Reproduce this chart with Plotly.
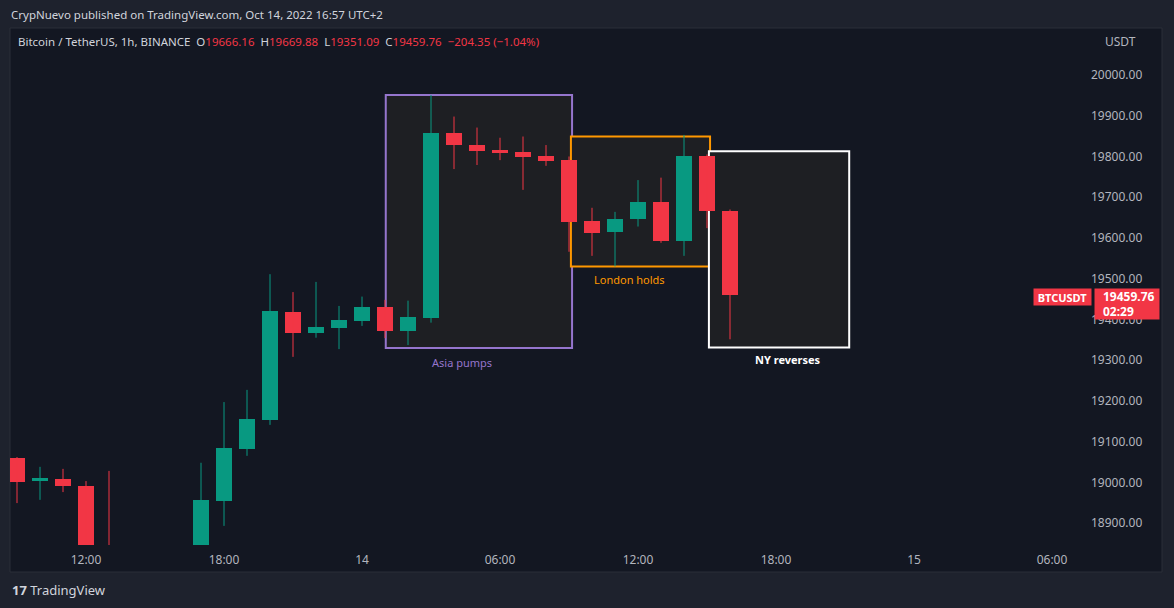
import plotly.graph_objects as go
import pandas as pd

# ---------------- data ----------------
times = pd.date_range("2022-10-13 09:00", "2022-10-14 16:00", freq="h")
opens = [19060, 19004, 19008, 18991, 18770, 18720, 18700, 18760, 18800, 18955, 19082, 19153,
         19418, 19367, 19380, 19396, 19431, 19372, 19404, 19858, 19828, 19817, 19812, 19801,
         19791, 19641, 19615, 19646, 19687, 19593, 19801, 19666.16]
highs = [19062, 19038, 19033, 19003, 19028, 18810, 18790, 18830, 19048, 19197, 19227, 19511,
         19467, 19492, 19433, 19456, 19448, 19446, 19951, 19898, 19871, 19846, 19849, 19828,
         19800, 19674, 19664, 19742, 19748, 19853, 19805, 19669.88]
lows = [18949, 18957, 18976, 18700, 18690, 18650, 18620, 18700, 18780, 18893, 19065, 19141,
        19308, 19355, 19327, 19384, 19354, 19337, 19392, 19769, 19779, 19791, 19718, 19777,
        19566, 19556, 19530, 19628, 19588, 19556, 19624, 19351.09]
closes = [19001, 19010, 18990, 18760, 18720, 18700, 18760, 18800, 18957, 19084, 19155, 19421,
          19367, 19381, 19398, 19430, 19372, 19405, 19858, 19827, 19814, 19808, 19799, 19790,
          19640, 19613, 19646, 19687, 19593, 19801, 19666, 19459.76]

# session boxes
box_names = ["Asia pumps", "London holds", "NY reverses"]
box_start = ["2022-10-14 01:02", "2022-10-14 09:05", "2022-10-14 15:05"]
box_end = ["2022-10-14 09:08", "2022-10-14 15:08", "2022-10-14 21:11"]
box_top = [19951, 19849, 19813]
box_bottom = [19330, 19530, 19331]
label_time = ["2022-10-14 04:21", "2022-10-14 11:39", "2022-10-14 18:30"]
label_price = [19295, 19497, 19302]
box_colors = ["#9575cd", "#ff9800", "#ffffff"]

price_ticks = [18900, 19000, 19100, 19200, 19300, 19400, 19500, 19600, 19700, 19800, 19900, 20000]
time_tickvals = ["2022-10-13 12:00", "2022-10-13 18:00", "2022-10-14 00:00", "2022-10-14 06:00",
                 "2022-10-14 12:00", "2022-10-14 18:00", "2022-10-15 00:00", "2022-10-15 06:00"]
time_ticktext = ["12:00", "18:00", "14", "06:00", "12:00", "18:00", "15", "06:00"]

last_price = 19459.76
countdown = "02:29"
change_text = "−204.35 (−1.04%)"

# ---------------- style ----------------
UP = "#089981"
DOWN = "#f23645"
BG_OUT = "#1e222d"
BG_PANEL = "#131722"
TXT = "#b2b5be"
FONT = "Noto Sans"

fig = go.Figure()

# bodies + wicks
for is_up, col in [(True, UP), (False, DOWN)]:
    xs, bases, hts = [], [], []
    for t, o, c in zip(times, opens, closes):
        if (c >= o) == is_up:
            xs.append(t)
            bases.append(min(o, c))
            hts.append(max(abs(c - o), 2.5))
    fig.add_trace(go.Bar(x=xs, y=hts, base=bases, width=0.72 * 3600 * 1000,
                         marker=dict(color=col, line=dict(width=0)),
                         hoverinfo="skip", showlegend=False))
    wx, wy = [], []
    for t, o, c, h, l in zip(times, opens, closes, highs, lows):
        if (c >= o) == is_up:
            wx += [t, t, None]
            wy += [l, h, None]
    fig.add_trace(go.Scatter(x=wx, y=wy, mode="lines", line=dict(color=col, width=1),
                             hoverinfo="skip", showlegend=False))

# plot area geometry (pixels)
L, R, T, B = 10, 89, 28, 63
W, H = 1174, 608
PW, PH = W - L - R, H - T - B


def px(x):
    return (x - L) / PW


def py(y):
    return (H - B - y) / PH


shapes = []
shapes.append(dict(type="rect", xref="paper", yref="paper", x0=px(10), x1=px(1162), y0=py(572), y1=py(28),
                   fillcolor=BG_PANEL, line=dict(color="#2a2e39", width=1), layer="below"))
for s, e, tp, bt, col in zip(box_start, box_end, box_top, box_bottom, box_colors):
    shapes.append(dict(type="rect", xref="x", yref="y", x0=s, x1=e, y0=bt, y1=tp,
                       fillcolor="#1e1f23", line=dict(color=col, width=2), layer="below"))

annotations = []
label_bold = [False, False, True]
for name, lt, lp, col, bold in zip(box_names, label_time, label_price, box_colors, label_bold):
    annotations.append(dict(x=lt, y=lp, xref="x", yref="y", showarrow=False,
                            text=f"<b>{name}</b>" if bold else name,
                            font=dict(family=FONT, size=11, color=col)))

annotations.append(dict(x=px(9), y=py(15), xref="paper", yref="paper", xanchor="left", yanchor="middle",
                        showarrow=False, text="CrypNuevo published on TradingView.com, Oct 14, 2022 16:57 UTC+2",
                        font=dict(family=FONT, size=11.5, color="#d1d4dc")))
o, h, l, c = opens[-1], highs[-1], lows[-1], closes[-1]
red = DOWN
hdr = ("Bitcoin / TetherUS, 1h, BINANCE  "
       f"O<span style='color:{red}'>{o:.2f}</span>  H<span style='color:{red}'>{h:.2f}</span>  "
       f"L<span style='color:{red}'>{l:.2f}</span>  C<span style='color:{red}'>{c:.2f}</span>  "
       f"<span style='color:{red}'>{change_text}</span>")
annotations.append(dict(x=px(16), y=py(41), xref="paper", yref="paper", xanchor="left", yanchor="middle",
                        showarrow=False, text=hdr, font=dict(family=FONT, size=11.5, color="#d1d4dc")))
annotations.append(dict(x=px(1103), y=py(41), xref="paper", yref="paper", xanchor="left", yanchor="middle",
                        showarrow=False, text="USDT", font=dict(family=FONT, size=12, color=TXT)))
annotations.append(dict(x=px(1033), y=py(288), xref="paper", yref="paper", xanchor="left", yanchor="top",
                        showarrow=False, text="<b>BTCUSDT</b>", width=57, height=16, bgcolor=DOWN, borderpad=0,
                        align="center", valign="middle", font=dict(family=FONT, size=11, color="#ffffff")))
pad = "\u2002\u2009"
annotations.append(dict(x=px(1094), y=py(288), xref="paper", yref="paper", xanchor="left", yanchor="top",
                        showarrow=False, text=f"<b>{pad}{last_price:.2f}<br>{pad}{countdown}</b>", width=64, height=30,
                        bgcolor=DOWN, borderpad=0, align="left", valign="middle",
                        font=dict(family=FONT, size=12, color="#ffffff")))
annotations.append(dict(x=px(10), y=py(590), xref="paper", yref="paper", xanchor="left", yanchor="middle",
                        showarrow=False, text="<b>17</b> TradingView",
                        font=dict(family=FONT, size=13, color="#d1d4dc")))

fig.update_layout(
    width=W, height=H,
    margin=dict(l=L, r=R, t=T, b=B, pad=0),
    paper_bgcolor=BG_OUT,
    plot_bgcolor="rgba(0,0,0,0)",
    barmode="overlay",
    bargap=0,
    showlegend=False,
    shapes=shapes,
    annotations=annotations,
    font=dict(family=FONT, color=TXT),
    xaxis=dict(type="date", range=["2022-10-13 08:41:45", "2022-10-15 07:26:06"],
               tickvals=time_tickvals, ticktext=time_ticktext, showgrid=False, zeroline=False,
               showline=False, ticks="", tickfont=dict(family=FONT, size=12, color=TXT),
               ticklabelstandoff=6, fixedrange=True),
    yaxis=dict(side="right", range=[18846.1, 20115.4], tickvals=price_ticks,
               ticktext=[f"{v:.2f}" for v in price_ticks], showgrid=False, zeroline=False,
               showline=False, ticks="", tickfont=dict(family=FONT, size=12, color=TXT),
               ticklabelstandoff=5, fixedrange=True),
)

fig.write_html("out.html", config={"displayModeBar": False},
               post_script="document.body.style.margin='0';document.body.style.background='#1e222d';")
